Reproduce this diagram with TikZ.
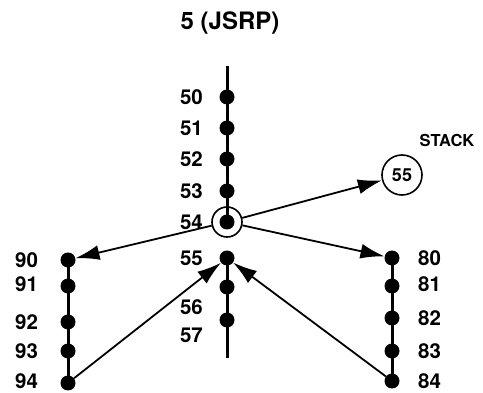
\documentclass[tikz,border=0pt]{standalone}
\usepackage{fontspec}
\setmainfont{TeX Gyre Heros}
\usetikzlibrary{arrows.meta}
\begin{document}
\begin{tikzpicture}[x=1pt,y=-1pt,
  dot/.style={circle,fill=black,inner sep=0pt,minimum size=15pt},
  lbl/.style={font=\bfseries\fontsize{20.5}{20.5}\selectfont,inner sep=0pt},
  chain/.style={line width=3pt},
  ring/.style={circle,draw,line width=1.6pt,inner sep=0pt},
  arr/.style={line width=1.8pt,-{Latex[length=24pt,width=15pt]}},
]
\useasboundingbox (0,0) rectangle (483,393);
\node[font=\bfseries\fontsize{24}{24}\selectfont] (title) at (230,23) {5 (JSRP)};
% main column
\coordinate (top) at (227,66);
\coordinate (bot) at (227,358);
\foreach \n/\y in {50/97,51/128,52/159,53/191,54/222,55/258,56/287,57/320}
  \node[dot] (n\n) at (227,\y) {};
\node[ring,minimum size=30pt] (c54) at (227,222) {};
\draw[chain] (top) -- (n54.center);
\draw[chain] (n55.center) -- (bot);
\foreach \n/\y in {50/97,51/128,52/159,53/191,54/222,55/258,56/307,57/335}
  \node[lbl,anchor=east] (l\n) at (203,\y) {\n};
% left column
\foreach \n/\y in {90/260,91/286,92/322,93/351,94/383}
  \node[dot] (n\n) at (68,\y) {};
\draw[chain] (n90.center) -- (n94.center);
\foreach \n/\y in {90/260,91/284,92/322,93/351,94/381}
  \node[lbl,anchor=west] (l\n) at (15,\y) {\n};
% right column
\foreach \n/\y in {80/258,81/286,82/318,83/351,84/381}
  \node[dot] (n\n) at (392,\y) {};
\draw[chain] (n80.center) -- (n84.center);
\foreach \n/\y in {80/258,81/284,82/318,83/351,84/381}
  \node[lbl,anchor=west] (l\n) at (418,\y) {\n};
% stack
\node[ring,minimum size=40pt,font=\bfseries\fontsize{18}{18}\selectfont] (stack) at (402,175) {55};
\node[font=\bfseries\fontsize{16.5}{16.5}\selectfont] (stacklbl) at (447,140) {STACK};
% arrows
\draw[arr] (c54) -- (stack);
\draw[arr] (c54) -- (n90);
\draw[arr] (c54) -- (n80);
\draw[arr] (n94) -- (n55);
\draw[arr] (n84) -- (n55);
\end{tikzpicture}
\end{document}
